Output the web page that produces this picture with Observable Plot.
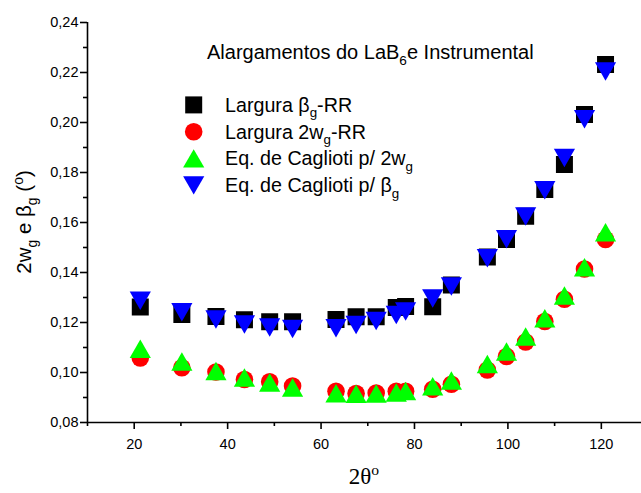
<!DOCTYPE html>
<html><head><meta charset="utf-8">
<script src="https://cdn.jsdelivr.net/npm/d3@7"></script>
<script src="https://cdn.jsdelivr.net/npm/@observablehq/plot@0.6"></script>
<style>
html,body{margin:0;padding:0;background:#fff;}
#chart svg{display:block;}
</style>
</head><body><div id="chart"></div>
<script>
// ---- data ----
const twoTheta = [21.3, 30.2, 37.5, 43.6, 49.0, 53.9, 63.2, 67.5, 71.8, 76.1, 78.1, 83.9, 87.9, 95.6, 99.7, 103.8, 107.9, 112.1, 116.4, 120.9];
const larguraBeta = [0.1262, 0.1232, 0.1224, 0.1211, 0.1203, 0.1203, 0.1212, 0.1223, 0.1223, 0.1260, 0.1264, 0.1263, 0.1350, 0.1462, 0.1532, 0.1625, 0.1732, 0.1832, 0.2032, 0.2232];
const largura2w = [0.1058, 0.1019, 0.1002, 0.0972, 0.0963, 0.0946, 0.0925, 0.0916, 0.0918, 0.0925, 0.0925, 0.0933, 0.0953, 0.1010, 0.1064, 0.1122, 0.1204, 0.1293, 0.1414, 0.1532];
const caglioti2w = [0.1095, 0.1044, 0.1006, 0.0980, 0.0960, 0.0940, 0.0917, 0.0915, 0.0916, 0.0920, 0.0926, 0.0945, 0.0968, 0.1034, 0.1084, 0.1144, 0.1217, 0.1308, 0.1421, 0.1561];
const cagliotiBeta = [0.1287, 0.1241, 0.1212, 0.1192, 0.1180, 0.1174, 0.1177, 0.1190, 0.1206, 0.1230, 0.1244, 0.1296, 0.1344, 0.1457, 0.1533, 0.1624, 0.1729, 0.1858, 0.2013, 0.2204];

const xDomain = [10, 128.6];
const yDomain = [0.08, 0.24];
const xMajorTicks = [20, 40, 60, 80, 100, 120];
const xMinorTicks = [10, 30, 50, 70, 90, 110];
const yMajorTicks = [0.08, 0.10, 0.12, 0.14, 0.16, 0.18, 0.20, 0.22, 0.24];
const yMinorTicks = [0.09, 0.11, 0.13, 0.15, 0.17, 0.19, 0.21, 0.23];

const titleParts = [["Alargamentos do LaB", null], ["6", "sub"], ["e Instrumental", null]];
const legendLabels = [
  [["Largura β", null], ["g", "sub"], ["-RR", null]],
  [["Largura 2w", null], ["g", "sub"], ["-RR", null]],
  [["Eq. de Caglioti p/ 2w", null], ["g", "sub"]],
  [["Eq. de Caglioti p/ β", null], ["g", "sub"]]
];
const yTitleParts = [["2w", null], ["g", "sub"], [" e β", null], ["g", "sub"], [" (", null], ["o", "sup"], [")", null]];
const xTitleParts = [["2θ", null], ["o", "sup"]];
const seriesColors = ["#000000", "#ff0000", "#00ff00", "#0000ff"];

// ---- symbols (bounding-box centred, like the original software) ----
const symSquare = {draw(c){ const h = 8.5; c.rect(-h, -h, 2*h, 2*h); }};
const symCircle = {draw(c){ const r = 8.8; c.moveTo(r, 0); c.arc(0, 0, r, 0, 2*Math.PI); }};
const symTriUp = {draw(c){ c.moveTo(0, -9.2); c.lineTo(10.6, 9.2); c.lineTo(-10.6, 9.2); c.closePath(); }};
const symTriDown = {draw(c){ c.moveTo(0, 9.2); c.lineTo(10.6, -9.2); c.lineTo(-10.6, -9.2); c.closePath(); }};
const seriesSymbols = [symSquare, symCircle, symTriUp, symTriDown];
const seriesValues = [larguraBeta, largura2w, caglioti2w, cagliotiBeta];

const toRows = (vals) => twoTheta.map((t, i) => ({t, v: vals[i]}));
const fmtY = d => d.toFixed(2).replace(".", ",");
const SANS = "'Liberation Sans', Arial, Helvetica, sans-serif";
const SERIF = "'Liberation Serif', 'Times New Roman', serif";
const AX_W = 1.6;

const chart = Plot.plot({
  width: 641,
  height: 493,
  marginLeft: 87,
  marginRight: 0,
  marginTop: 22,
  marginBottom: 71,
  style: {fontFamily: SANS, fontSize: "14.5px", color: "#000", background: "#fff"},
  x: {domain: xDomain, label: null},
  y: {domain: yDomain, label: null},
  marks: [
    Plot.axisX({ticks: xMajorTicks, tickSize: 7, tickPadding: 9, tickFormat: d => String(d), strokeWidth: AX_W, label: null}),
    Plot.axisX({ticks: xMinorTicks, tickSize: 4, tickFormat: () => "", strokeWidth: AX_W, label: null}),
    Plot.axisY({ticks: yMajorTicks, tickSize: 7, tickPadding: 2, tickFormat: fmtY, strokeWidth: AX_W, label: null}),
    Plot.axisY({ticks: yMinorTicks, tickSize: 4, tickFormat: () => "", strokeWidth: AX_W, label: null}),
    Plot.ruleX([xDomain[0]], {stroke: "#000", strokeWidth: AX_W}),
    Plot.ruleY([yDomain[0]], {stroke: "#000", strokeWidth: AX_W}),
    ...seriesValues.map((vals, k) => Plot.dot(toRows(vals), {
      x: "t", y: "v", r: 8, symbol: seriesSymbols[k], fill: seriesColors[k], stroke: "none"
    }))
  ]
});

document.getElementById("chart").appendChild(chart);

// ---- text with sub/superscripts ----
function richText(parent, parts, fs, attrs) {
  const t = parent.append("text").attr("font-size", fs).attr("text-anchor", "start");
  for (const [k, v] of Object.entries(attrs)) t.attr(k, v);
  let shift = 0;
  for (const [str, kind] of parts) {
    const target = kind === "sub" ? 0.28 * fs : kind === "sup" ? -0.38 * fs : 0;
    const sp = t.append("tspan").text(str).attr("dy", target - shift);
    if (kind) sp.attr("font-size", fs * 0.68);
    shift = target;
  }
  return t;
}

const svg = d3.select(chart);
const g = svg.append("g").attr("font-family", SANS).attr("fill", "#000");

// title of the legend box
richText(g, titleParts, 20, {x: 207, y: 59});

// legend rows
const rowBase = [111.7, 138.5, 165.2, 192.2];
legendLabels.forEach((parts, i) => {
  g.append("path")
    .attr("transform", `translate(193.7,${rowBase[i] - 6.8})`)
    .attr("d", d3.symbol(seriesSymbols[i], 1)())
    .attr("fill", seriesColors[i]);
  richText(g, parts, 19.7, {x: 225, y: rowBase[i]});
});

// y axis title (rotated)
richText(g, yTitleParts, 20.5, {transform: "translate(31,222) rotate(-90)", "text-anchor": "middle"});

// x axis title (serif)
richText(svg.append("g").attr("font-family", SERIF), xTitleParts, 23, {x: 364, y: 484, "text-anchor": "middle"});
</script>
</body></html>
